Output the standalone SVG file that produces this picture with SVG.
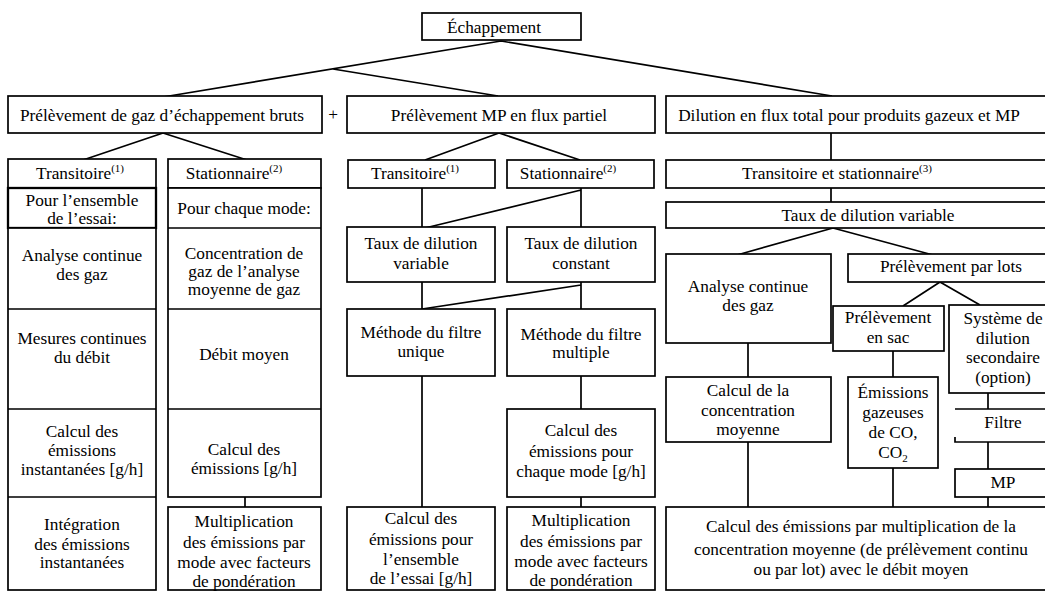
<svg xmlns="http://www.w3.org/2000/svg" width="1045" height="592" viewBox="0 0 1045 592">
  <style>
    rect { fill: #fff; stroke: #000; stroke-width: 1.7; }
    .edge { fill: none; stroke: #000; stroke-width: 1.7; }
    text { font-family: "Liberation Serif", "Times New Roman", serif; font-size: 17.3px; fill: #000; text-anchor: middle; }
    .sup { font-size: 11px; }
  </style>
  <rect x="0" y="0" width="1045" height="592" style="stroke:none"/>

  <!-- connectors -->
  <g id="connectors">
    <path class="edge" d="M501,41 L163,97 M333,69 L498,96 M501,41 L832,96"/>
    <path class="edge" d="M163,133 L83,160 M163,133 L247,160"/>
    <path class="edge" d="M499,133 L425,160 M499,133 L580,160"/>
    <path class="edge" d="M831,133 V160 M831,188 V202"/>
    <path class="edge" d="M422,188 V227 M581,188 V227 M581,190 L425,228"/>
    <path class="edge" d="M422,282 V309 M581,282 V309 M581,285 L422,309"/>
    <path class="edge" d="M422,376 V507 M581,376 V409 M581,497 V507 M245,497 V507"/>
    <path class="edge" d="M833,228 L737,255 M833,228 L933,255"/>
    <path class="edge" d="M748,343 V377 M748,442 V507"/>
    <path class="edge" d="M940,282 L903,306 M940,282 L980,305"/>
    <path class="edge" d="M893,351 V377 M893,468 V507"/>
    <path class="edge" d="M988,393 V409 M988,442 V469 M988,497 V507"/>
  </g>

  <g id="echappement">
    <rect x="422" y="13" width="159" height="27"/>
    <text x="494" y="33">Échappement</text>
  </g>
  <text x="333" y="120">+</text>

  <!-- raw exhaust sampling branch -->
  <g id="brut">
    <rect x="8" y="96" width="314" height="37"/>
    <text x="162" y="121">Prélèvement de gaz d’échappement bruts</text>
  </g>
  <g id="brut-transitoire">
    <rect x="8" y="159" width="148" height="29"/>
    <text x="80" y="179">Transitoire<tspan class="sup" dy="-7">(1)</tspan></text>
  </g>
  <g id="brut-ensemble">
    <rect x="8" y="188" width="148" height="40" style="stroke-width:2.3"/>
    <text x="82" y="206">Pour l’ensemble</text>
    <text x="82" y="224">de l’essai:</text>
  </g>
  <g id="brut-col1">
    <rect x="8" y="228" width="148" height="362"/>
    <path class="edge" d="M8,309 H156 M8,409 H156 M8,497 H156"/>
    <text x="82" y="261">Analyse continue</text>
    <text x="82" y="280">des gaz</text>
    <text x="82" y="344">Mesures continues</text>
    <text x="82" y="363">du débit</text>
    <text x="82" y="437">Calcul des</text>
    <text x="82" y="456">émissions</text>
    <text x="82" y="475">instantanées [g/h]</text>
    <text x="82" y="530">Intégration</text>
    <text x="82" y="550">des émissions</text>
    <text x="82" y="568">instantanées</text>
  </g>
  <g id="brut-stationnaire">
    <rect x="168" y="159" width="153" height="29"/>
    <text x="234" y="179">Stationnaire<tspan class="sup" dy="-7">(2)</tspan></text>
  </g>
  <g id="brut-col2">
    <rect x="168" y="188" width="153" height="309"/>
    <path class="edge" d="M168,228 H321 M168,309 H321 M168,409 H321"/>
    <text x="244" y="214">Pour chaque mode:</text>
    <text x="244" y="259">Concentration de</text>
    <text x="244" y="277">gaz de l’analyse</text>
    <text x="244" y="295">moyenne de gaz</text>
    <text x="244" y="360">Débit moyen</text>
    <text x="244" y="455">Calcul des</text>
    <text x="244" y="474">émissions [g/h]</text>
  </g>
  <g id="brut-ponderation">
    <rect x="168" y="507" width="153" height="83"/>
    <text x="244" y="527">Multiplication</text>
    <text x="244" y="548">des émissions par</text>
    <text x="244" y="568">mode avec facteurs</text>
    <text x="244" y="587">de pondération</text>
  </g>

  <!-- partial flow PM branch -->
  <g id="partiel">
    <rect x="347" y="96" width="308" height="37"/>
    <text x="499" y="121">Prélèvement MP en flux partiel</text>
  </g>
  <g id="partiel-transitoire">
    <rect x="348" y="160" width="147" height="28"/>
    <text x="415" y="179">Transitoire<tspan class="sup" dy="-7">(1)</tspan></text>
  </g>
  <g id="partiel-stationnaire">
    <rect x="507" y="160" width="147" height="28"/>
    <text x="568" y="179">Stationnaire<tspan class="sup" dy="-7">(2)</tspan></text>
  </g>
  <g id="taux-variable">
    <rect x="347" y="227" width="148" height="55"/>
    <text x="421" y="249">Taux de dilution</text>
    <text x="421" y="269">variable</text>
  </g>
  <g id="taux-constant">
    <rect x="507" y="227" width="148" height="55"/>
    <text x="581" y="249">Taux de dilution</text>
    <text x="581" y="269">constant</text>
  </g>
  <g id="filtre-unique">
    <rect x="347" y="309" width="148" height="67"/>
    <text x="421" y="338">Méthode du filtre</text>
    <text x="421" y="357">unique</text>
  </g>
  <g id="filtre-multiple">
    <rect x="507" y="309" width="148" height="67"/>
    <text x="581" y="340">Méthode du filtre</text>
    <text x="581" y="358">multiple</text>
  </g>
  <g id="emissions-mode">
    <rect x="507" y="409" width="148" height="88"/>
    <text x="581" y="436">Calcul des</text>
    <text x="581" y="457">émissions pour</text>
    <text x="581" y="477">chaque mode [g/h]</text>
  </g>
  <g id="emissions-ensemble">
    <rect x="347" y="507" width="148" height="83"/>
    <text x="421" y="524">Calcul des</text>
    <text x="421" y="545">émissions pour</text>
    <text x="421" y="565">l’ensemble</text>
    <text x="421" y="584">de l’essai [g/h]</text>
  </g>
  <g id="partiel-ponderation">
    <rect x="507" y="507" width="148" height="83"/>
    <text x="581" y="526">Multiplication</text>
    <text x="581" y="547">des émissions par</text>
    <text x="581" y="567">mode avec facteurs</text>
    <text x="581" y="586">de pondération</text>
  </g>

  <!-- full flow dilution branch -->
  <g id="total">
    <rect x="666" y="96" width="390" height="37"/>
    <text x="849" y="121">Dilution en flux total pour produits gazeux et MP</text>
  </g>
  <g id="total-regime">
    <rect x="666" y="160" width="390" height="28"/>
    <text x="837" y="179">Transitoire et stationnaire<tspan class="sup" dy="-7">(3)</tspan></text>
  </g>
  <g id="total-taux">
    <rect x="666" y="202" width="390" height="26"/>
    <text x="868" y="221">Taux de dilution variable</text>
  </g>
  <g id="total-analyse">
    <rect x="666" y="254" width="165" height="89"/>
    <text x="748" y="292">Analyse continue</text>
    <text x="748" y="311">des gaz</text>
  </g>
  <g id="total-concentration">
    <rect x="666" y="377" width="165" height="65"/>
    <text x="748" y="396">Calcul de la</text>
    <text x="748" y="416">concentration</text>
    <text x="748" y="435">moyenne</text>
  </g>
  <g id="lots">
    <rect x="848" y="254" width="208" height="28"/>
    <text x="951" y="272">Prélèvement par lots</text>
  </g>
  <g id="sac">
    <rect x="833" y="306" width="111" height="45"/>
    <text x="888" y="323">Prélèvement</text>
    <text x="888" y="343">en sac</text>
  </g>
  <g id="gazeuses">
    <rect x="848" y="377" width="90" height="91"/>
    <text x="893" y="398">Émissions</text>
    <text x="893" y="418">gazeuses</text>
    <text x="893" y="438">de CO,</text>
    <text x="893" y="458">CO<tspan class="sup" dy="4">2</tspan></text>
  </g>
  <g id="secondaire">
    <rect x="949" y="305" width="110" height="88"/>
    <text x="1003" y="324">Système de</text>
    <text x="1003" y="344">dilution</text>
    <text x="1003" y="363">secondaire</text>
    <text x="1003" y="383">(option)</text>
  </g>
  <g id="filtre">
    <path class="edge" d="M955,409 H1050 M955,437 V442 H1050"/>
    <text x="1003" y="428">Filtre</text>
  </g>
  <g id="mp">
    <rect x="955" y="469" width="100" height="28"/>
    <text x="1003" y="483" dy="5">MP</text>
  </g>
  <g id="total-calcul">
    <rect x="666" y="507" width="390" height="83"/>
    <text x="861" y="532">Calcul des émissions par multiplication de la</text>
    <text x="861" y="555">concentration moyenne (de prélèvement continu</text>
    <text x="861" y="575">ou par lot) avec le débit moyen</text>
  </g>
</svg>
